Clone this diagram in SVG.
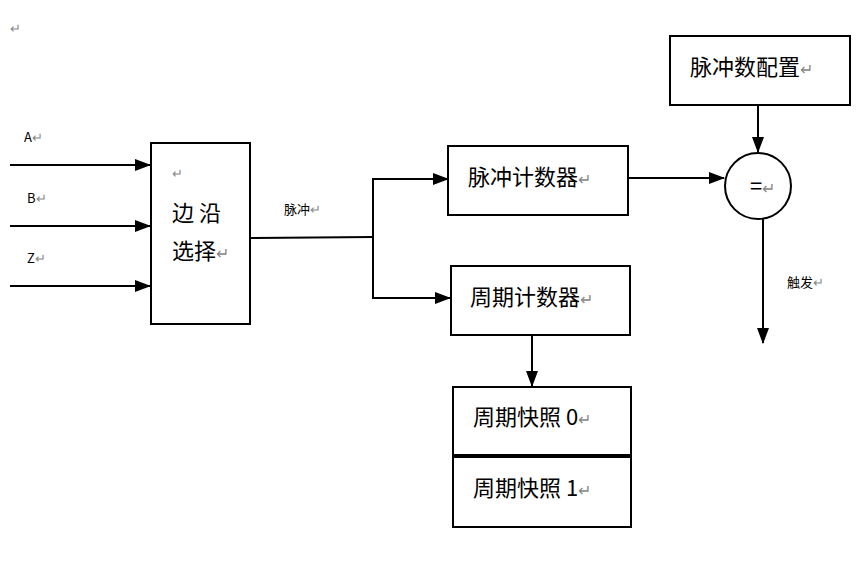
<svg xmlns="http://www.w3.org/2000/svg" width="865" height="564" viewBox="0 0 865 564">
<defs>
<style>
.b{fill:#fff;stroke:#000;stroke-width:2}
.l{fill:none;stroke:#000;stroke-width:2}
.t{font-family:"Noto Sans CJK SC","Noto Sans",sans-serif;font-size:22px;fill:#000}
.s{font-family:"Noto Sans CJK SC","Noto Sans",sans-serif;font-size:13px;fill:#000}
.r{fill:#888}
</style>
<marker id="a" markerWidth="10" markerHeight="10" refX="9" refY="5" orient="auto" markerUnits="userSpaceOnUse"><path d="M0,0 L10,5 L0,10 z" fill="#000"/></marker>
<marker id="a2" markerWidth="16" markerHeight="12" refX="15" refY="6" orient="auto" markerUnits="userSpaceOnUse"><path d="M0,0 L16,6 L0,12 z" fill="#000"/></marker>
</defs>
<rect width="865" height="564" fill="#fff"/>
<text x="10" y="33" class="s r" font-size="16">↵</text>
<g id="connectors">
<line x1="10" y1="165" x2="150" y2="165" class="l" marker-end="url(#a2)"/>
<line x1="10" y1="226" x2="150" y2="226" class="l" marker-end="url(#a2)"/>
<line x1="10" y1="286" x2="150" y2="286" class="l" marker-end="url(#a2)"/>
<polyline points="250,238 373,237" class="l"/>
<polyline points="448,179 373,179 373,298 450,298" class="l"/>
<line x1="373" y1="179" x2="448" y2="179" class="l" marker-end="url(#a2)"/>
<line x1="373" y1="298" x2="450" y2="298" class="l" marker-end="url(#a2)"/>
<line x1="628" y1="178" x2="724" y2="178" class="l" marker-end="url(#a2)"/>
<line x1="758" y1="105" x2="758" y2="152" class="l" marker-end="url(#a2)"/>
<line x1="763" y1="219" x2="763" y2="343" class="l" marker-end="url(#a2)"/>
<line x1="532" y1="335" x2="532" y2="386" class="l" marker-end="url(#a2)"/>
<text x="24" y="142" class="s">A<tspan class="r">↵</tspan></text>
<text x="27" y="203" class="s">B<tspan class="r">↵</tspan></text>
<text x="27" y="263" class="s">Z<tspan class="r">↵</tspan></text>
<text x="284" y="214" class="s">脉冲<tspan class="r">↵</tspan></text>
<text x="787" y="287" class="s">触发<tspan class="r">↵</tspan></text>
</g>
<g id="edge"><rect x="151" y="143" width="99" height="181" class="b"/>
<text x="172" y="178" class="s r" font-size="16">↵</text>
<text x="172" y="221" class="t">边 沿</text>
<text x="172" y="259" class="t">选择<tspan class="r" font-size="16">↵</tspan></text></g>
<g id="pc"><rect x="448" y="146" width="180" height="69" class="b"/><text x="468" y="185" class="t">脉冲计数器<tspan class="r" font-size="16">↵</tspan></text></g>
<g id="cc"><rect x="451" y="266" width="179" height="69" class="b"/><text x="470" y="305" class="t">周期计数器<tspan class="r" font-size="16">↵</tspan></text></g>
<g id="cfg"><rect x="670" y="36" width="180" height="69" class="b"/><text x="690" y="75" class="t">脉冲数配置<tspan class="r" font-size="16">↵</tspan></text></g>
<g id="eq"><circle cx="758" cy="186" r="33" class="b"/><text x="750" y="194" class="t" font-size="20">=<tspan class="r" font-size="16">↵</tspan></text></g>
<g id="s0"><rect x="453" y="387" width="178" height="68" class="b"/><text x="473" y="425" class="t">周期快照 0<tspan class="r" font-size="16">↵</tspan></text></g>
<g id="s1"><rect x="453" y="457" width="178" height="70" class="b"/><text x="473" y="496" class="t">周期快照 1<tspan class="r" font-size="16">↵</tspan></text></g>
</svg>
